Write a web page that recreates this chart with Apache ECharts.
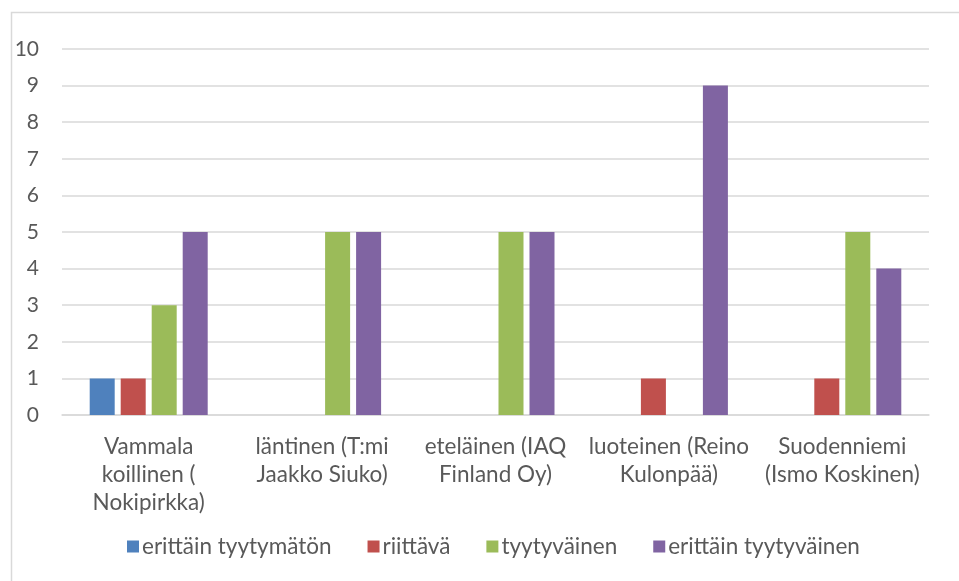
<!DOCTYPE html>
<html>
<head>
<meta charset="utf-8">
<script src="https://cdn.jsdelivr.net/npm/echarts@6/dist/echarts.min.js"></script>
<style>
  html, body { margin: 0; padding: 0; background: #fff; }
  #chart { width: 959px; height: 581px; }
</style>
</head>
<body>
<div id="chart"></div>
<script>
// Urakoitsijakohtaiset arviot
const categories = [
  'Vammala\nkoillinen (\nNokipirkka)',
  'läntinen (T:mi\nJaakko Siuko)',
  'eteläinen (IAQ\nFinland Oy)',
  'luoteinen (Reino\nKulonpää)',
  'Suodenniemi\n(Ismo Koskinen)'
];
const seriesNames = ['erittäin tyytymätön', 'riittävä', 'tyytyväinen', 'erittäin tyytyväinen'];
const erittainTyytymaton = [1, 0, 0, 0, 0];
const riittava = [1, 0, 0, 1, 1];
const tyytyvainen = [3, 5, 5, 0, 5];
const erittainTyytyvainen = [5, 5, 5, 9, 4];
const colors = ['#4f81bd', '#c0504d', '#9bbb59', '#8064a2'];

const values = [erittainTyytymaton, riittava, tyytyvainen, erittainTyytyvainen];
const fontFamily = 'Lato, "Open Sans", sans-serif';

const chart = echarts.init(document.getElementById('chart'), null, { renderer: 'canvas' });
chart.setOption({
  animation: false,
  textStyle: { fontFamily: fontFamily },
  graphic: [{
    type: 'rect',
    shape: { x: 11.5, y: 12.5, width: 960, height: 580 },
    style: { fill: 'none', stroke: '#d9d9d9', lineWidth: 1.5 },
    silent: true
  }],
  grid: { left: 62, right: 30, top: 49, bottom: 166, containLabel: false },
  legend: {
    top: 535,
    left: 127,
    padding: 0,
    itemWidth: 12,
    itemHeight: 12,
    itemGap: 36,
    icon: 'rect',
    textStyle: { color: '#595959', fontSize: 22.5, fontFamily: fontFamily, padding: [0, 0, 0, -2] },
    data: seriesNames
  },
  xAxis: {
    type: 'category',
    data: categories,
    axisLine: { lineStyle: { color: '#d9d9d9', width: 1.5 } },
    axisTick: { show: false },
    axisLabel: {
      color: '#595959', fontSize: 22.5, lineHeight: 28, margin: 18,
      interval: 0, fontFamily: fontFamily
    }
  },
  yAxis: {
    type: 'value',
    min: 0, max: 10, interval: 1,
    axisLine: { show: false },
    axisTick: { show: false },
    splitLine: { lineStyle: { color: '#d9d9d9', width: 1.5 } },
    axisLabel: { color: '#595959', fontSize: 21, margin: 23, fontFamily: fontFamily }
  },
  series: seriesNames.map((name, i) => ({
    name: name,
    type: 'bar',
    data: values[i],
    barWidth: 25,
    barGap: '24%',
    itemStyle: { color: colors[i] }
  }))
});
</script>
</body>
</html>
